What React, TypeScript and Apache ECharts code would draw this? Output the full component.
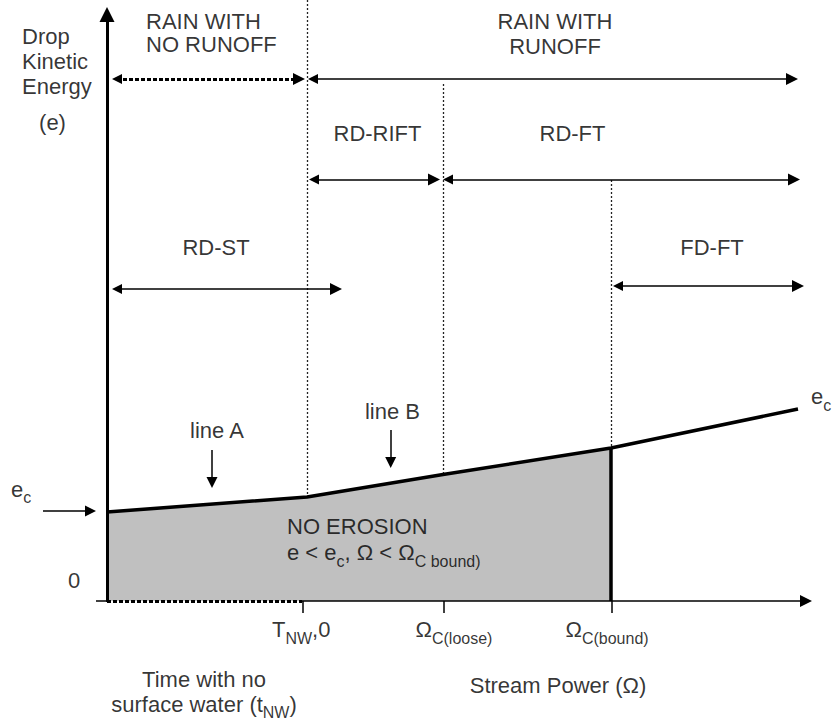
import React, { useEffect, useRef } from "react";
import * as echarts from "echarts";

const FONT = "'Liberation Sans', Arial, Helvetica, sans-serif";
const W = 833;
const H = 724;

// Diagram units: one unit is the same length on both axes
const X_MIN = 0;
const X_MAX = 83.3;
const Y_MIN = -12.3;
const Y_MAX = 60.1;

// critical drop kinetic energy line (line A then line B)
const curveOmega = [10.7, 30.7, 44.3, 61.1, 79.8];
const curveEc = [8.9, 10.4, 12.65, 15.3, 19.2];
const noErosionEnd = 3; // index of Ω_C(bound)

// vertical dotted dividers: T_NW, Ω_C(loose), Ω_C(bound)
const dividerX = [30.7, 44.3, 61.1];
const dividerTop = [60.1, 51.7, 42.1];
const dividerCurveIndex = [1, 2, 3];

// x-axis ticks and their labels
const tickX = [30.3, 44.37, 61.13];
const tickLabels = ["{t|T}{s|NW}{t|,0}", "{t|Ω}{s|C(loose)}", "{t|Ω}{s|C(bound)}"];
const tickLabelX = [27.2, 41.55, 56.55];
const tickLabelY = -2.85;

// axes
const yAxisX = 10.7;
const yAxisTop = 59.4;
const xAxisStub = 9.6;
const xAxisDottedEnd = 30.2;
const xAxisEnd = 81.2;

// range arrows (double headed)
const spanFrom = [11.1, 30.7, 30.8, 44.2, 11.1, 61.2];
const spanTo = [30.5, 79.8, 44.0, 80.0, 34.2, 80.4];
const spanY = [52.2, 52.2, 42.15, 42.15, 31.2, 31.5];
const spanDotted = [true, false, false, false, false, false];

// pointer arrows (single head): e_c, line A, line B
const pointerFrom = [[4.3, 9.0], [21.2, 15.1], [39.07, 17.1]];
const pointerTo = [[9.6, 9.0], [21.2, 11.3], [39.07, 13.3]];

// text labels
const labelText = [
  "{r|RAIN WITH}\n{r|NO RUNOFF}",
  "{t|RAIN WITH}\n{t|RUNOFF}",
  "{t|Drop}\n{t|Kinetic}\n{t|Energy}",
  "{t|(e)}",
  "{t|RD-RIFT}",
  "{t|RD-FT}",
  "{t|RD-ST}",
  "{t|FD-FT}",
  "{t|line A}",
  "{t|line B}",
  "{t|e}{s|c}",
  "{t|0}",
  "{t|e}{s|c}",
  "{n|NO EROSION}\n{n|e < e}{ns|c}{n|, Ω < Ω}{ns|C bound)}",
  "{t|Time with no}\n{t|surface water (t}{s|NW}{t|)}",
  "{t|Stream Power (Ω)}",
];
const labelX = [14.6, 55.5, 2.2, 5.25, 37.75, 57.25, 21.6, 71.2, 21.7, 39.25, 1.1, 7.4, 81.1, 28.7, 20.4, 55.8];
const labelY = [56.85, 56.7, 54.0, 47.9, 46.75, 46.75, 35.4, 35.4, 17.05, 19.0, 11.16, 2.1, 20.45, 6.15, -9.05, -8.4];
const labelAlign = ["left", "center", "left", "center", "center", "center", "center", "center", "center", "center", "left", "center", "left", "left", "center", "center"];

const BLACK = "#000";

function trim(p1: number[], p2: number[], h1: number, h2: number) {
  const dx = p2[0] - p1[0];
  const dy = p2[1] - p1[1];
  const len = Math.sqrt(dx * dx + dy * dy) || 1;
  const ux = dx / len;
  const uy = dy / len;
  return [
    [p1[0] + ux * h1, p1[1] + uy * h1],
    [p2[0] - ux * h2, p2[1] - uy * h2],
  ];
}

function ls(width: number, type: any = "solid", color: string = BLACK) {
  return { color, width, type, opacity: 1, curveness: 0 };
}

export default function App() {
  const ref = useRef<HTMLDivElement>(null);
  useEffect(() => {
    document.body.style.margin = "0";
    if (!ref.current) return;
    const chart = echarts.init(ref.current, undefined, { renderer: "svg" });

    const fillData = curveOmega.slice(0, noErosionEnd + 1).map((x, i) => [x, curveEc[i]]);
    const curveData = curveOmega.map((x, i) => [x, curveEc[i]]);

    const plainLines: any[] = [];
    // dividers
    dividerX.forEach((x, i) => {
      plainLines.push({
        coords: [[x, dividerTop[i]], [x, curveEc[dividerCurveIndex[i]]]],
        lineStyle: ls(1.3, [2, 2], "#222"),
      });
    });
    // x axis stub and dotted part
    plainLines.push({ coords: [[xAxisStub, 0], [yAxisX, 0]], lineStyle: ls(1.5) });
    plainLines.push({ coords: [[yAxisX, 0], [xAxisDottedEnd, 0]], lineStyle: ls(3, [4, 2]) });
    // ticks
    tickX.forEach((x) => {
      plainLines.push({ coords: [[x, 0], [x, -1.2]], lineStyle: ls(1.5) });
    });
    // Ω_C(bound) boundary
    plainLines.push({
      coords: [[curveOmega[noErosionEnd], 0], [curveOmega[noErosionEnd], curveEc[noErosionEnd]]],
      lineStyle: ls(3.5),
    });

    const spanData = spanFrom.map((x1, i) => ({
      coords: trim([x1, spanY[i]], [spanTo[i], spanY[i]], 0.6, 0.6),
      lineStyle: spanDotted[i] ? ls(3, [4, 2]) : ls(1.5),
    }));

    const pointerData = pointerFrom.map((p, i) => ({
      coords: trim(p, pointerTo[i], 0, 0.55),
      lineStyle: ls(1.5),
    }));

    const rich: any = {
      t: { fontFamily: FONT, fontSize: 22, lineHeight: 25, color: BLACK },
      s: { fontFamily: FONT, fontSize: 16, lineHeight: 25, color: BLACK, padding: [17, 0, 0, 0] },
      r: { fontFamily: FONT, fontSize: 22, lineHeight: 23, color: BLACK },
      n: { fontFamily: FONT, fontSize: 22, lineHeight: 26, color: BLACK },
      ns: { fontFamily: FONT, fontSize: 16, lineHeight: 26, color: BLACK, padding: [17, 0, 0, 0] },
    };

    const textData: any[] = labelText.map((txt, i) => ({
      value: [labelX[i], labelY[i]],
      txt,
      label: { align: labelAlign[i] },
    }));
    tickLabels.forEach((txt, i) => {
      textData.push({ value: [tickLabelX[i], tickLabelY], txt, label: { align: "left" } });
    });

    const linesBase = {
      type: "lines",
      coordinateSystem: "cartesian2d",
      silent: true,
      lineStyle: { opacity: 1, color: BLACK },
    };

    chart.setOption({
      animation: false,
      grid: { left: 0, right: 0, top: 0, bottom: 0, containLabel: false },
      xAxis: { type: "value", min: X_MIN, max: X_MAX, show: false },
      yAxis: { type: "value", min: Y_MIN, max: Y_MAX, show: false },
      series: [
        {
          type: "line",
          data: fillData,
          symbol: "none",
          silent: true,
          lineStyle: { width: 0 },
          areaStyle: { color: "#c0c0c0", opacity: 1 },
          z: 1,
        },
        { ...linesBase, symbol: "none", data: plainLines, z: 2 },
        {
          ...linesBase,
          symbol: ["none", "triangle"],
          symbolSize: [13, 15],
          data: [{ coords: trim([yAxisX, -0.1], [yAxisX, yAxisTop], 0, 0.75), lineStyle: ls(3) }],
          z: 3,
        },
        {
          ...linesBase,
          symbol: ["none", "triangle"],
          symbolSize: [11, 12],
          data: [{ coords: trim([xAxisDottedEnd, 0], [xAxisEnd, 0], 0, 0.6), lineStyle: ls(1.5) }],
          z: 3,
        },
        {
          type: "line",
          data: curveData,
          symbol: "none",
          silent: true,
          lineStyle: { color: BLACK, width: 3.5 },
          z: 4,
        },
        { ...linesBase, symbol: ["triangle", "triangle"], symbolSize: [10, 12], data: spanData, z: 5 },
        { ...linesBase, symbol: ["none", "triangle"], symbolSize: [9, 11], data: pointerData, z: 5 },
        {
          type: "scatter",
          silent: true,
          clip: false,
          symbolSize: 1,
          itemStyle: { color: "rgba(0,0,0,0)" },
          data: textData,
          label: {
            show: true,
            position: "inside",
            verticalAlign: "middle",
            formatter: (p: any) => p.data.txt,
            rich,
          },
          emphasis: { disabled: true },
          z: 6,
        },
      ],
    });
    return () => chart.dispose();
  }, []);
  return <div ref={ref} style={{ width: W, height: H, background: "#fff" }} />;
}
